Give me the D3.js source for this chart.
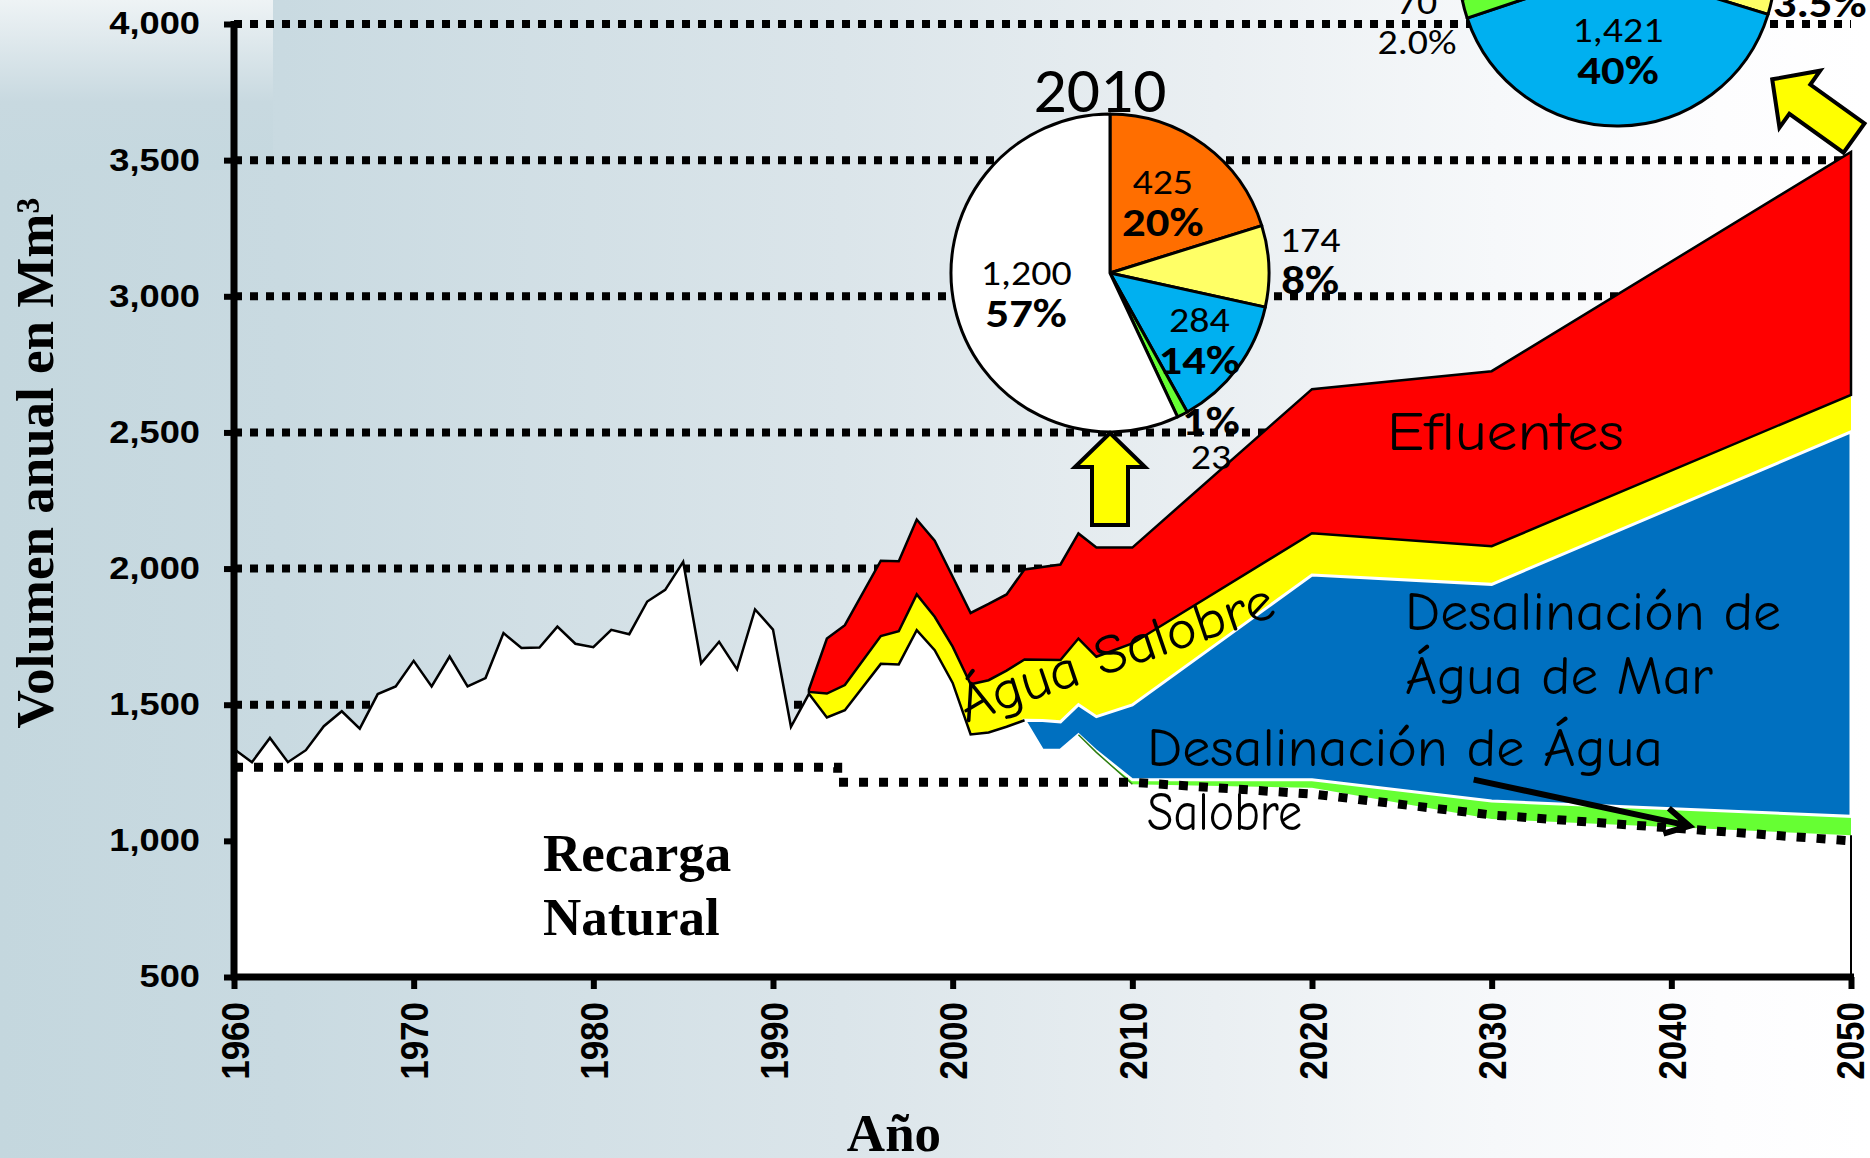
<!DOCTYPE html>
<html>
<head>
<meta charset="utf-8">
<script src="https://cdn.jsdelivr.net/npm/d3@7"></script>
<style>
  html, body { margin: 0; padding: 0; background: #fff; }
  svg { display: block; }
</style>
</head>
<body>
<div id="chart"></div>
<script>
// historical total supply (black line) 1960-1992
const histYears = [1960, 1961, 1962, 1963, 1964, 1965, 1966, 1967, 1968, 1969, 1970, 1971, 1972, 1973, 1974, 1975, 1976,
  1977, 1978, 1979, 1980, 1981, 1982, 1983, 1984, 1985, 1986, 1987, 1988, 1989, 1990, 1991, 1992]
const histSupply = [1337, 1289, 1378, 1289, 1333, 1421, 1476, 1412, 1539, 1567, 1661, 1567, 1677, 1567, 1598, 1763, 1708,
  1710, 1787, 1724, 1711, 1775, 1759, 1879, 1922, 2025, 1652, 1731, 1630, 1850, 1776, 1419, 1540]

// stacked sources 1992-2050 (Mm3 per year)
const stackYears = [1992, 1993, 1994, 1996, 1997, 1998, 1999, 2000, 2001, 2002, 2003, 2004, 2005, 2006, 2007, 2008, 2010, 2020, 2030, 2050]
const natural = [1540, 1453, 1480, 1650, 1648, 1774, 1700, 1580, 1391, 1398, 1419, 1443, 1333, 1333, 1390, 1325, 1208, 1195, 1080, 1021]
const brackishDesal = [0, 0, 0, 0, 0, 0, 0, 0, 0, 0, 0, 0, 0, 0, 0, 4, 16, 29, 66, 69]
const seaDesal = [0, 0, 0, 0, 0, 0, 0, 0, 0, 0, 0, 0, 109, 104, 110, 127, 275, 752, 796, 1412]
const brackish = [7, 88, 92, 102, 122, 131, 123, 133, 184, 192, 206, 223, 223, 227, 243, 220, 226, 154, 140, 136]
const effluents = [9, 202, 220, 277, 257, 275, 279, 257, 262, 280, 280, 331, 341, 351, 386, 401, 352, 529, 643, 892]

// natural recharge (dotted line)
const rechargeYears = [1960, 1993.6, 1993.6, 2010, 2020, 2030, 2050]
const recharge = [1270, 1270, 1215, 1215, 1172, 1095, 1000]

const yTicks = [500, 1000, 1500, 2000, 2500, 3000, 3500, 4000]
const xTicks = [1960, 1970, 1980, 1990, 2000, 2010, 2020, 2030, 2040, 2050]
const gridValues = [1000, 1500, 2000, 2500, 3000, 3500, 4000]

// pies
const pieCategories = ['Efluentes', 'Água Salobre', 'Desalinación de Água de Mar', 'Desalinación de Água Salobre', 'Recarga Natural']
const pie2010Values = [425, 174, 284, 23, 1200]
const pie2010Pct = ['20%', '8%', '14%', '1%', '57%']
const pie2050Values = [929, 124, 1421, 70, 997]
const pie2050Pct = ['26%', '3.5%', '40%', '2.0%', '28%']

const W = 1870
const H = 1158
const comic = "'Comic Sans MS', 'Comic Neue', 'Noto Sans', sans-serif"
const serif = "'Liberation Serif', 'Times New Roman', serif"
const calibri = "Calibri, Carlito, 'Noto Sans', sans-serif"
const sans = "'Liberation Sans', Arial, sans-serif"

const svg = d3.select('#chart').append('svg')
  .attr('width', W)
  .attr('height', H)

const stretch = k => function () {
  const w = this.getComputedTextLength()
  d3.select(this).attr('textLength', w * k).attr('lengthAdjust', 'spacingAndGlyphs')
}

const defs = svg.append('defs')
const bgGrad = defs.append('linearGradient').attr('id', 'bg').attr('x1', 0).attr('x2', 1).attr('y1', 0).attr('y2', 0)
;[[0, '#c4d7de'], [0.15, '#c9dae1'], [0.45, '#dbe5ea'], [0.65, '#eaeff2'], [0.8, '#f6f8fa'], [0.92, '#fdfdfe'], [1, '#ffffff']]
  .forEach(([o, c]) => bgGrad.append('stop').attr('offset', o).attr('stop-color', c))
const tlGrad = defs.append('linearGradient').attr('id', 'tl').attr('x1', 0).attr('x2', 0).attr('y1', 0).attr('y2', 1)
;[[0, '#eef3f5'], [0.6, '#c8d9e0'], [1, '#c5d8df']]
  .forEach(([o, c]) => tlGrad.append('stop').attr('offset', o).attr('stop-color', c))

svg.append('rect').attr('width', W).attr('height', H).attr('fill', 'url(#bg)')
svg.append('rect').attr('width', 273).attr('height', 170).attr('fill', 'url(#tl)')

const x = d3.scaleLinear().domain([1960, 2050]).range([234, 1851])
const y = d3.scaleLinear().domain([500, 4000]).range([977, 24])

// dotted gridlines
svg.append('g')
  .selectAll('line')
  .data(gridValues)
  .join('line')
  .attr('x1', x(1960))
  .attr('x2', x(2050))
  .attr('y1', d => y(d))
  .attr('y2', d => y(d))
  .attr('stroke', '#000')
  .attr('stroke-width', 8)
  .attr('stroke-dasharray', '8,8')

// white area (history + natural part of stack)
const whiteTop = histYears.map((yr, i) => ({ year: yr, v: histSupply[i] }))
  .concat(stackYears.slice(1).map((yr, i) => ({ year: yr, v: natural[i + 1] })))

svg.append('path')
  .datum(whiteTop)
  .attr('d', d3.area().x(d => x(d.year)).y0(y(500)).y1(d => y(d.v)))
  .attr('fill', '#fff')

const rows = stackYears.map((yr, i) => ({
  year: yr,
  natural: natural[i],
  brackishDesal: brackishDesal[i],
  seaDesal: seaDesal[i],
  brackish: brackish[i],
  effluents: effluents[i]
}))
const keys = ['natural', 'brackishDesal', 'seaDesal', 'brackish', 'effluents']
const series = d3.stack().keys(keys)(rows)
const byKey = {}
series.forEach(s => { byKey[s.key] = s })

const layerStyle = {
  brackishDesal: { fill: '#66ff33', stroke: 'none', sw: 0 },
  brackish: { fill: '#ffff00', stroke: 'none', sw: 0 },
  seaDesal: { fill: '#0070c0', stroke: '#ffffff', sw: 3 },
  effluents: { fill: '#ff0000', stroke: '#000', sw: 2.5 }
}

;['brackishDesal', 'brackish', 'seaDesal', 'effluents'].forEach(key => {
  const s = byKey[key]
  const firstIdx = s.findIndex(d => d[1] - d[0] > 0)
  const start = Math.max(0, firstIdx - 1)
  const pts = s.slice(start)
  svg.append('path')
    .datum(pts)
    .attr('d', d3.area().x(d => x(d.data.year)).y0(d => y(d[0])).y1(d => y(d[1])))
    .attr('fill', layerStyle[key].fill)
    .attr('stroke', layerStyle[key].stroke)
    .attr('stroke-width', layerStyle[key].sw)
    .attr('stroke-linejoin', 'miter')
})

// black outline of white area up to 2004
svg.append('path')
  .datum(whiteTop.filter(d => d.year <= 2004))
  .attr('d', d3.line().x(d => x(d.year)).y(d => y(d.v)))
  .attr('fill', 'none')
  .attr('stroke', '#000')
  .attr('stroke-width', 2.5)

// dark edge under brackish desalination at its start
svg.append('path')
  .datum(whiteTop.filter(d => d.year >= 2007 && d.year <= 2010))
  .attr('d', d3.line().x(d => x(d.year)).y(d => y(d.v)))
  .attr('fill', 'none')
  .attr('stroke', '#2f7d10')
  .attr('stroke-width', 1.5)

// natural recharge dotted line
svg.append('path')
  .datum(rechargeYears.map((yr, i) => [yr, recharge[i]]))
  .attr('d', d3.line().x(d => x(d[0])).y(d => y(d[1])))
  .attr('fill', 'none')
  .attr('stroke', '#000')
  .attr('stroke-width', 9)
  .attr('stroke-dasharray', '9,11')

// right edge of white area
svg.append('line')
  .attr('x1', x(2050)).attr('x2', x(2050))
  .attr('y1', y(natural[natural.length - 1])).attr('y2', y(500))
  .attr('stroke', '#000').attr('stroke-width', 2)

// axes
const yAxis = svg.append('g')
  .attr('transform', `translate(${x(1960)},0)`)
  .call(d3.axisLeft(y).tickValues(yTicks).tickFormat(d3.format(',')).tickSize(10).tickSizeOuter(0).tickPadding(24))
yAxis.select('.domain').attr('stroke-width', 7).attr('d', `M0,${y(4000) - 3}V${y(500) + 3}`)
yAxis.selectAll('.tick line').attr('stroke-width', 6)
yAxis.selectAll('.tick text')
  .attr('font-family', sans)
  .attr('font-weight', 'bold')
  .attr('font-size', 31)
  .attr('fill', '#000')
  .each(stretch(1.17))

const xAxis = svg.append('g')
  .attr('transform', `translate(0,${y(500)})`)
  .call(d3.axisBottom(x).tickValues(xTicks).tickFormat(d => d).tickSize(12).tickSizeOuter(0))
xAxis.select('.domain').attr('stroke-width', 7).attr('d', `M${x(1960) - 3},0H${x(2050) + 3}`)
xAxis.selectAll('.tick line').attr('stroke-width', 6)
xAxis.selectAll('.tick text')
  .attr('font-family', sans)
  .attr('font-weight', 'bold')
  .attr('font-size', 35)
  .attr('fill', '#000')
  .attr('text-anchor', 'end')
  .attr('x', 0)
  .attr('y', 0)
  .attr('dy', '0.36em')
  .attr('transform', (d, i) => `translate(${i === xTicks.length - 1 ? -2 : 0},25) rotate(-90) scale(1,1.12)`)

// axis titles
svg.append('text')
  .attr('transform', 'translate(53,463) rotate(-90)')
  .attr('text-anchor', 'middle')
  .attr('font-family', serif)
  .attr('font-weight', 'bold')
  .attr('font-size', 53)
  .text('Volumen anual en Mm³')

svg.append('text')
  .attr('x', 894).attr('y', 1151)
  .attr('text-anchor', 'middle')
  .attr('font-family', serif)
  .attr('font-weight', 'bold')
  .attr('font-size', 53)
  .text('Año')

const recG = svg.append('g')
  .attr('font-family', serif)
  .attr('font-weight', 'bold')
  .attr('font-size', 53)
recG.append('text').attr('x', 543).attr('y', 871).text('Recarga')
recG.append('text').attr('x', 543).attr('y', 935).text('Natural')

// series labels (widths matched to the drawing)
const seriesLabels = [
  { t: 'Efluentes', tr: 'translate(1387,450)', len: 237 },
  { t: 'Água Salobre', tr: 'translate(966,723) rotate(-19)', len: 330 },
  { t: 'Desalinación de', tr: 'translate(1405,630)', len: 376 },
  { t: 'Água de Mar', tr: 'translate(1405,694)', len: 308 },
  { t: 'Desalinación de Água', tr: 'translate(1147,766)', len: 516 },
  { t: 'Salobre', tr: 'translate(1147,830)', len: 155 }
]
svg.append('g')
  .attr('font-family', comic)
  .attr('font-size', 55)
  .attr('fill', '#000')
  .selectAll('text')
  .data(seriesLabels)
  .join('text')
  .attr('transform', d => d.tr)
  .attr('textLength', d => d.len)
  .attr('lengthAdjust', 'spacingAndGlyphs')
  .text(d => d.t)

// pointer arrow to the brackish desalination band
const pA = [x(2029), y(1225)]
const pB = [x(2041), y(1055)]
const ang = Math.atan2(pB[1] - pA[1], pB[0] - pA[0])
const armLen = 27
const arm = a => [pB[0] - armLen * Math.cos(ang + a), pB[1] - armLen * Math.sin(ang + a)]
const a1 = arm(0.5)
const a2 = arm(-0.5)
svg.append('path')
  .attr('d', `M${pA}L${pB}M${a1}L${pB}L${a2}`)
  .attr('fill', 'none')
  .attr('stroke', '#000')
  .attr('stroke-width', 6)
  .attr('stroke-linejoin', 'miter')

// pies
const pieColors = ['#ff6e00', '#ffff66', '#00b0f0', '#66ff33', '#ffffff']
const pieLayout = [
  { values: pie2010Values, pct: pie2010Pct, cx: 1110, cy: 273, r: 159, labelR: [0.56, 1.26, 0.7, 1.2, 0.54], swap: [3], plain: [], shift: { 1: [0, -5], 3: [14, -4] }, title: '2010' },
  { values: pie2050Values, pct: pie2050Pct, cx: 1617, cy: -32, r: 158, labelR: [0.55, 1.28, 0.51, 1.31, 0.55], swap: [], plain: [3], shift: { 1: [4, -24] }, title: null }
]

pieLayout.forEach(p => {
  const g = svg.append('g').attr('transform', `translate(${p.cx},${p.cy})`)
  const arcs = d3.pie().sort(null).value(d => d)(p.values)
  const arc = d3.arc().innerRadius(0).outerRadius(p.r)
  g.selectAll('path')
    .data(arcs)
    .join('path')
    .attr('d', arc)
    .attr('fill', (d, i) => pieColors[i])
    .attr('stroke', '#000')
    .attr('stroke-width', 3)
    .attr('stroke-linejoin', 'round')

  arcs.forEach((d, i) => {
    const mid = (d.startAngle + d.endAngle) / 2
    const rr = p.r * p.labelR[i]
    const sh = p.shift[i] || [0, 0]
    const lx = rr * Math.sin(mid) + sh[0]
    const ly = -rr * Math.cos(mid) + sh[1]
    if (p.cy + ly < -25) return
    const swap = p.swap.includes(i)
    g.append('text')
      .attr('x', lx).attr('y', ly + (swap ? 18 : -19))
      .attr('text-anchor', 'middle')
      .attr('dominant-baseline', 'central')
      .attr('font-family', calibri)
      .attr('font-size', 35)
      .text(d3.format(',')(p.values[i]))
      .each(stretch(1.14))
    g.append('text')
      .attr('x', lx).attr('y', ly + (swap ? -18 : 21))
      .attr('text-anchor', 'middle')
      .attr('dominant-baseline', 'central')
      .attr('font-family', calibri)
      .attr('font-weight', p.plain.includes(i) ? 'normal' : 'bold')
      .attr('font-size', p.plain.includes(i) ? 35 : 41)
      .text(p.pct[i])
      .each(stretch(1.14))
  })

  if (p.title) {
    g.append('text')
      .attr('x', -10).attr('y', -p.r - 2)
      .attr('text-anchor', 'middle')
      .attr('font-family', calibri)
      .attr('font-size', 63)
      .text(p.title)
      .each(stretch(1.04))
  }
})

// yellow block arrows
const arrowShape = len => `M0,0L35,34L18,34L18,${len}L-18,${len}L-18,34L-35,34Z`
const p10 = pieLayout[0]
svg.append('path')
  .attr('d', arrowShape(92))
  .attr('transform', `translate(${p10.cx},${p10.cy + p10.r + 1})`)
  .attr('fill', '#ffff00')
  .attr('stroke', '#000')
  .attr('stroke-width', 4)

const p50 = pieLayout[1]
const tail = [x(2050) + 3, y(3530) - 14]
const dx = tail[0] - p50.cx
const dy = tail[1] - p50.cy
const dist = Math.hypot(dx, dy)
const tip = [p50.cx + dx / dist * (p50.r + 33), p50.cy + dy / dist * (p50.r + 33)]
const rot = Math.atan2(tail[0] - tip[0], -(tail[1] - tip[1])) * 180 / Math.PI
svg.append('path')
  .attr('d', arrowShape(Math.hypot(tail[0] - tip[0], tail[1] - tip[1])))
  .attr('transform', `translate(${tip}) rotate(${rot + 180})`)
  .attr('fill', '#ffff00')
  .attr('stroke', '#000')
  .attr('stroke-width', 4)
</script>
</body>
</html>
